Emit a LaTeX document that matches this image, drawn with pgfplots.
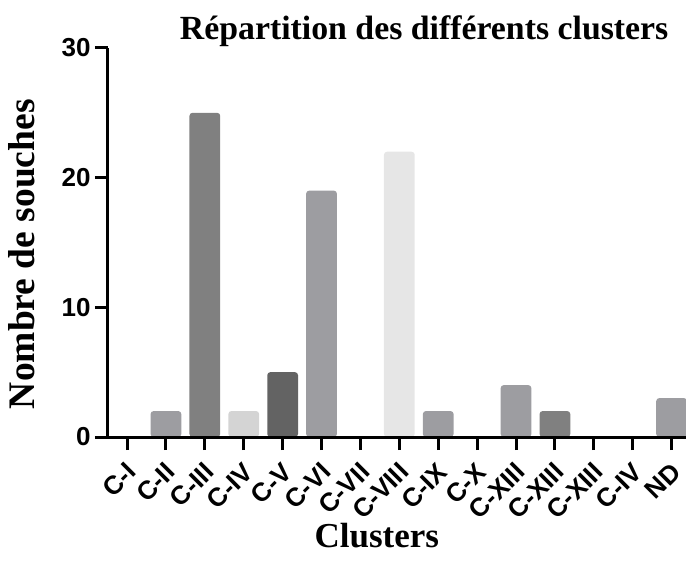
\documentclass[border=0pt]{standalone}
\usepackage{fontspec}
\setmainfont{Liberation Serif}
\setsansfont{Liberation Sans}
\usepackage{pgfplots}
\pgfplotsset{compat=1.18}
\definecolor{gA}{HTML}{9D9DA1}
\definecolor{gB}{HTML}{808080}
\definecolor{gC}{HTML}{D4D4D4}
\definecolor{gD}{HTML}{636363}
\definecolor{gE}{HTML}{E6E6E6}
\begin{document}
\begin{tikzpicture}
\path[use as bounding box] (-108bp,-137bp) rectangle (578bp,437bp);
\begin{axis}[
  at={(0,0)}, anchor=south west,
  scale only axis, width=578bp, height=389bp,
  xmin=-0.49, xmax=14.37, ymin=0, ymax=30,
  axis lines=left,
  axis line style={line width=3bp, -},
  axis on top=true,
  ybar, bar width=0.79, bar shift=0pt,
  xtick={0,...,14},
  xticklabels={C-I,C-II,C-III,C-IV,C-V,C-VI,C-VII,C-VIII,C-IX,C-X,C-XIII,C-XIII,C-XIII,C-IV,ND},
  ytick={0,10,20,30},
  tick align=outside,
  major tick length=13bp,
  tick style={line width=3bp, black},
  /pgf/number format/assume math mode=true,
  yticklabel style={font=\fontsize{26bp}{30bp}\selectfont\sffamily\bfseries, xshift=-1bp},
  xticklabel style={font=\fontsize{26bp}{30bp}\selectfont\sffamily\bfseries, xshift=7bp, yshift=-15bp, rotate=45, anchor=east},
  title={Répartition des différents clusters},
  title style={font=\fontsize{33.8bp}{38bp}\selectfont\bfseries, at={(axis description cs:0.547,1.0077)}, anchor=base},
  ylabel={Nombre de souches},
  ylabel style={font=\fontsize{37.5bp}{42bp}\selectfont\bfseries, at={(axis description cs:-0.1263,0.47)}, anchor=base},
  xlabel={Clusters},
  xlabel style={font=\fontsize{35bp}{40bp}\selectfont\bfseries, at={(axis description cs:0.465,-0.2853)}, anchor=base},
  clip=false,
]
\addplot[fill=gA, draw=none, rounded corners=3bp] coordinates {(1,2)};
\addplot[fill=gB, draw=none, rounded corners=3bp] coordinates {(2,25)};
\addplot[fill=gC, draw=none, rounded corners=3bp] coordinates {(3,2)};
\addplot[fill=gD, draw=none, rounded corners=3bp] coordinates {(4,5)};
\addplot[fill=gA, draw=none, rounded corners=3bp] coordinates {(5,19)};
\addplot[fill=gE, draw=none, rounded corners=3bp] coordinates {(7,22)};
\addplot[fill=gA, draw=none, rounded corners=3bp] coordinates {(8,2)};
\addplot[fill=gA, draw=none, rounded corners=3bp] coordinates {(10,4)};
\addplot[fill=gB, draw=none, rounded corners=3bp] coordinates {(11,2)};
\addplot[fill=gA, draw=none, rounded corners=3bp] coordinates {(14,3)};
\end{axis}
\end{tikzpicture}
\end{document}
